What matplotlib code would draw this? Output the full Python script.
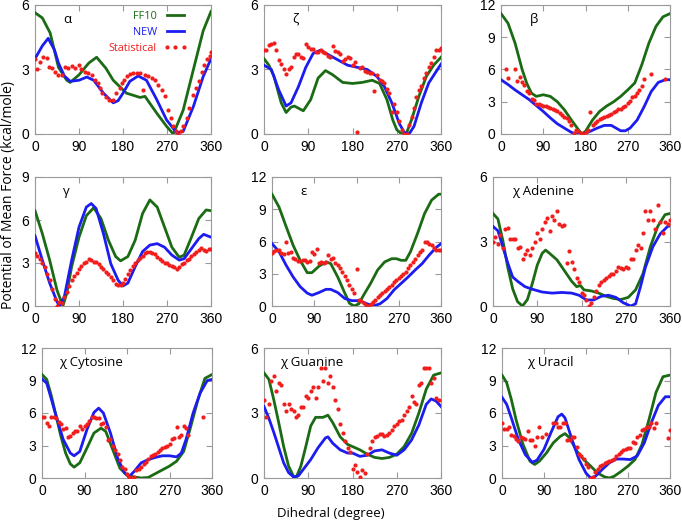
import numpy as np
import matplotlib
matplotlib.use('Agg')
import matplotlib.pyplot as plt

# ---- data ----
# alpha
alpha_ff10_x = [0, 15, 31, 48, 65, 72, 90, 110, 126, 145, 160, 187, 215, 225, 249, 269, 283, 303, 324, 344, 360]
alpha_ff10_y = [5.64, 5.4, 4.7, 3.1, 2.5, 2.4, 2.75, 3.3, 3.57, 3.06, 2.5, 1.9, 1.7, 1.75, 0.97, 0.36, 0.0, 1.1, 3.0, 4.8, 5.7]
alpha_new_x = [0, 15, 27, 40, 48, 60, 72, 90, 106, 120, 140, 160, 170, 180, 194, 211, 228, 249, 269, 290, 303, 324, 344, 360]
alpha_new_y = [3.5, 4.1, 4.45, 3.9, 3.3, 2.7, 2.45, 2.5, 2.65, 2.5, 1.9, 1.45, 1.55, 1.9, 2.45, 2.7, 2.5, 1.6, 0.66, 0.05, 0.12, 1.28, 2.67, 3.5]
alpha_stat_x = [0, 5, 10, 17, 24, 29, 34, 41, 48, 55, 61, 68, 75, 82, 90, 95, 102, 109, 116, 123, 128, 133, 138, 145,
                152, 159, 166, 173, 178, 183, 188, 194, 201, 208, 215, 220, 225, 232, 239, 245, 252, 259, 266, 273,
                278, 283, 288, 293, 299, 303, 310, 316, 323, 329, 336, 341, 346, 351, 357, 360]
alpha_stat_y = [3.5, 3.0, 3.37, 3.6, 3.55, 3.1, 3.05, 2.9, 2.75, 2.75, 3.1, 3.05, 3.15, 3.05, 3.2, 3.0, 2.9, 2.85,
                2.75, 2.5, 2.35, 2.15, 1.9, 1.7, 1.6, 1.6, 1.9, 2.15, 2.35, 2.5, 2.7, 2.8, 2.85, 2.85, 2.83, 2.05,
                2.75, 2.7, 2.6, 2.5, 2.3, 2.05, 1.75, 1.13, 0.74, 0.36, 0.12, 0.0, 0.12, 0.39, 0.74, 1.2, 1.82,
                2.13, 2.47, 2.9, 3.2, 3.48, 3.63, 3.8]

# zeta
zeta_ff10_x = [0, 10, 20, 35, 45, 55, 62, 70, 80, 95, 110, 125, 140, 160, 180, 200, 220, 235, 250, 262, 270, 280, 290, 300, 315, 330, 345, 360]
zeta_ff10_y = [3.5, 3.2, 2.7, 1.45, 1.0, 1.25, 1.3, 1.2, 1.08, 1.6, 2.6, 2.95, 2.75, 2.4, 2.35, 2.4, 2.5, 2.35, 1.6, 0.65, 0.2, 0.0, 0.05, 0.66, 1.75, 2.67, 3.2, 3.57]
zeta_new_x = [0, 15, 30, 45, 55, 70, 85, 100, 115, 130, 150, 170, 190, 210, 230, 245, 260, 275, 285, 295, 305, 320, 335, 350, 360]
zeta_new_y = [3.2, 3.0, 2.05, 1.3, 1.45, 2.2, 3.1, 3.75, 3.9, 3.7, 3.45, 3.2, 3.1, 3.0, 2.67, 2.2, 1.45, 0.5, 0.08, 0.0, 0.35, 1.45, 2.37, 2.9, 3.25]
zeta_stat_x = [0, 5, 10, 15, 20, 25, 30, 35, 40, 45, 50, 55, 60, 65, 70, 75, 80, 85, 90, 95, 100, 105, 110, 115, 120,
               125, 130, 135, 140, 145, 150, 155, 160, 165, 170, 175, 180, 185, 190, 195, 200, 205, 210, 215, 220, 224,
               230, 235, 240, 245, 250, 255, 260, 265, 270, 275, 280, 285, 290, 295, 300, 305, 310, 315, 320, 325,
               330, 335, 340, 345, 350, 355, 360]
zeta_stat_y = [3.9, 3.9, 4.15, 4.2, 4.25, 3.9, 3.45, 3.25, 3.0, 2.8, 3.0, 3.1, 3.6, 3.7, 3.7, 3.6, 3.55, 4.2, 4.05,
               3.95, 3.95, 3.8, 3.8, 3.9, 3.8, 3.75, 3.65, 3.6, 4.1, 3.85, 3.8, 3.7, 3.4, 3.5, 3.6, 3.55, 3.2, 3.35,
               0.1, 3.05, 3.1, 2.95, 2.9, 2.85, 2.85, 2.0, 2.75, 2.5, 2.45, 2.35, 2.1, 1.9, 1.0, 1.4, 1.0, 0.6, 0.2,
               0.0, 0.0, 0.4, 0.8, 1.2, 1.7, 2.05, 2.25, 2.6, 2.85, 3.1, 3.3, 3.6, 3.9, 3.9, 4.0]

# beta
beta_ff10_x = [0, 15, 30, 45, 55, 65, 75, 90, 105, 120, 135, 150, 165, 172, 180, 195, 210, 225, 240, 255, 270, 285, 300, 315, 330, 345, 360]
beta_ff10_y = [11.2, 10.3, 8.45, 6.0, 4.7, 3.8, 3.5, 3.65, 3.5, 3.0, 2.25, 1.3, 0.4, 0.0, 0.25, 1.3, 2.1, 2.6, 3.0, 3.5, 4.1, 4.75, 6.45, 8.45, 10.0, 10.9, 11.2]
beta_new_x = [0, 15, 30, 45, 60, 75, 90, 105, 120, 135, 150, 160, 175, 190, 205, 220, 235, 245, 255, 265, 275, 290, 305, 320, 335, 350, 360]
beta_new_y = [5.05, 4.6, 4.1, 3.65, 3.2, 2.65, 2.1, 1.5, 0.95, 0.55, 0.15, 0.0, 0.0, 0.25, 0.55, 0.8, 0.8, 0.55, 0.3, 0.3, 0.55, 1.3, 2.55, 3.95, 4.8, 5.05, 5.05]
beta_stat_x = [10, 15, 30, 35, 40, 45, 50, 55, 60, 65, 70, 75, 80, 85, 90, 95, 100, 105, 110, 115, 120, 125, 130, 135,
               140, 145, 150, 155, 160, 165, 170, 175, 180, 185, 189, 195, 200, 205, 210, 215, 220, 225, 230, 235,
               240, 245, 250, 255, 260, 265, 270, 275, 280, 285, 290, 295, 300, 305, 320, 350]
beta_stat_y = [6.0, 5.2, 6.0, 4.9, 5.3, 4.8, 4.6, 4.0, 3.8, 3.3, 3.2, 2.8, 2.8, 2.7, 2.6, 2.6, 2.5, 2.4, 2.3, 2.2, 2.1,
               1.95, 1.8, 1.6, 1.45, 1.2, 0.8, 0.1, 0.4, 0.3, 0.05, 0.0, 0.2, 0.35, 2.0, 0.8, 1.0, 1.2, 1.35, 1.45,
               1.55, 1.65, 1.8, 1.9, 2.0, 2.15, 2.3, 2.3, 2.5, 2.65, 2.85, 3.1, 3.4, 3.5, 3.8, 4.1, 4.5, 5.1, 5.6, 5.1]

# gamma
gamma_ff10_x = [0, 15, 30, 45, 57, 65, 75, 90, 105, 120, 135, 150, 165, 175, 190, 205, 220, 235, 250, 265, 280, 295, 305, 320, 335, 350, 360]
gamma_ff10_y = [6.65, 5.05, 3.2, 1.1, 0.0, 0.9, 2.75, 4.8, 6.3, 6.85, 6.1, 4.6, 3.45, 3.15, 3.45, 4.6, 6.45, 7.4, 6.9, 5.5, 4.1, 3.4, 3.55, 4.8, 6.1, 6.7, 6.65]
gamma_new_x = [0, 15, 30, 45, 50, 60, 75, 90, 105, 115, 125, 140, 155, 170, 180, 190, 205, 220, 235, 250, 265, 280, 295, 305, 320, 335, 345, 360]
gamma_new_y = [4.9, 3.2, 1.6, 0.3, 0.0, 0.65, 3.2, 5.5, 6.9, 7.15, 6.8, 5.05, 2.95, 1.8, 1.4, 1.6, 2.75, 3.8, 4.25, 4.35, 4.1, 3.55, 3.2, 3.3, 4.0, 4.7, 5.0, 4.8]
gamma_stat_x = list(range(0, 361, 5))
gamma_stat_y = [3.7, 3.5, 3.3, 3.0, 2.7, 2.2, 1.8, 1.2, 0.5, 0.0, 0.25, 0.2, 0.6, 1.0, 1.4, 1.8, 2.1, 2.3, 2.6, 2.8,
                3.0, 3.1, 3.25, 3.2, 3.1, 3.05, 2.9, 2.7, 2.6, 2.4, 2.2, 2.0, 1.8, 1.55, 1.5, 1.5, 1.6, 1.9, 2.2,
                2.5, 2.8, 3.0, 3.2, 3.35, 3.5, 3.7, 3.8, 3.75, 3.7, 3.6, 3.4, 3.3, 3.15, 3.0, 3.0, 2.85, 2.8, 2.7,
                2.6, 2.7, 2.9, 3.0, 3.2, 3.3, 3.5, 3.6, 3.75, 3.9, 4.05, 3.9, 3.85, 4.0, 4.0]

# epsilon
eps_ff10_x = [0, 15, 30, 45, 60, 75, 85, 100, 115, 125, 140, 155, 165, 175, 185, 195, 210, 225, 240, 255, 265, 275, 285, 295, 310, 325, 340, 355, 360]
eps_ff10_y = [10.4, 9.2, 7.4, 5.65, 4.25, 3.1, 3.1, 3.7, 4.1, 3.95, 2.7, 1.2, 0.25, 0.0, 0.2, 1.0, 2.1, 3.35, 4.1, 4.4, 4.4, 4.25, 4.25, 5.05, 6.75, 8.6, 9.85, 10.4, 10.4]
eps_new_x = [0, 15, 30, 45, 60, 75, 85, 100, 115, 125, 140, 155, 170, 185, 200, 215, 230, 245, 260, 275, 290, 305, 320, 335, 350, 360]
eps_new_y = [5.8, 5.05, 3.8, 2.7, 1.8, 1.2, 1.0, 1.25, 1.55, 1.55, 1.25, 0.7, 0.5, 0.5, 0.25, 0.0, 0.2, 0.7, 1.5, 2.1, 2.7, 3.35, 3.95, 4.75, 5.45, 5.8]
eps_stat_x = list(range(0, 361, 5))
eps_stat_y = [4.9, 5.1, 5.2, 5.2, 4.9, 4.8, 6.0, 4.9, 5.0, 4.5, 4.4, 4.2, 4.2, 4.3, 4.3, 4.1, 4.2, 5.0, 4.8, 5.3,
              4.0, 4.1, 4.0, 4.1, 4.7, 4.4, 4.5, 4.0, 3.8, 3.5, 3.2, 2.8, 2.4, 2.0, 1.6, 1.2, 3.4, 0.6, 0.5, 0.3,
              0.1, 0.0, 0.2, 0.4, 0.6, 0.8, 1.0, 1.2, 1.4, 1.6, 1.8, 2.0, 2.2, 2.4, 2.6, 2.8, 3.0, 3.2, 3.5, 3.8,
              4.1, 4.4, 4.7, 5.0, 5.2, 6.0, 6.0, 5.8, 5.7, 5.4, 5.2, 5.2, 5.2]

# chi adenine
chia_ff10_x = [0, 10, 20, 30, 40, 50, 60, 70, 80, 90, 100, 107, 115, 130, 145, 160, 170, 178, 185, 200, 215, 230, 245, 260, 275, 290, 305, 320, 335, 350, 360]
chia_ff10_y = [4.3, 4.05, 3.05, 1.8, 0.8, 0.2, 0.0, 0.3, 1.05, 1.9, 2.45, 2.6, 2.45, 2.15, 1.65, 1.15, 0.9, 0.95, 0.75, 0.7, 0.6, 0.45, 0.35, 0.3, 0.4, 0.75, 1.5, 2.75, 3.7, 4.25, 4.3]
chia_new_x = [0, 10, 20, 30, 40, 50, 65, 80, 100, 120, 140, 160, 175, 190, 205, 220, 235, 250, 265, 280, 290, 300, 310, 325, 340, 355, 360]
chia_new_y = [3.7, 3.5, 2.75, 2.0, 1.35, 1.15, 0.9, 0.78, 0.65, 0.6, 0.63, 0.6, 0.5, 0.28, 0.28, 0.45, 0.5, 0.4, 0.15, 0.0, 0.1, 0.9, 1.8, 2.75, 3.35, 3.7, 3.72]
chia_stat_x = list(range(0, 361, 5))
chia_stat_y = [3.0, 3.2, 2.9, 3.3, 2.7, 3.6, 3.65, 3.1, 3.1, 3.1, 2.7, 2.75, 2.2, 2.4, 2.6, 2.35, 2.7, 3.0, 3.4,
               3.1, 3.6, 3.9, 4.1, 3.5, 4.2, 4.0, 4.4, 3.8, 3.7, 3.75, 2.0, 2.55, 2.05, 1.7, 1.3, 1.1, 0.6, 0.5,
               0.3, 0.0, 0.15, 0.4, 0.7, 1.0, 1.1, 1.2, 1.3, 1.4, 1.5, 1.5, 1.65, 1.8, 1.75, 1.7, 1.8, 1.75, 2.2,
               2.2, 2.6, 2.85, 2.7, 3.4, 4.4, 4.0, 4.4, 4.0, 3.6, 4.7, 3.9, 3.4, 3.9, 3.8, 4.0]

# chi cytosine
chic_ff10_x = [0, 10, 20, 30, 40, 50, 60, 68, 80, 95, 110, 125, 135, 150, 165, 180, 195, 210, 225, 240, 255, 270, 285, 300, 315, 330, 345, 360]
chic_ff10_y = [9.55, 9.1, 7.55, 5.7, 3.85, 2.3, 1.3, 1.0, 1.4, 2.75, 4.15, 4.6, 4.3, 2.6, 0.9, 0.25, 0.1, 0.0, 0.05, 0.4, 0.75, 1.1, 1.55, 2.45, 4.75, 7.2, 9.2, 9.55]
chic_new_x = [0, 10, 20, 30, 45, 60, 68, 80, 95, 110, 120, 130, 145, 160, 175, 185, 195, 210, 225, 240, 255, 270, 285, 295, 305, 320, 335, 350, 360]
chic_new_y = [9.15, 8.75, 7.25, 5.7, 3.55, 2.3, 2.05, 2.45, 4.45, 6.05, 6.45, 6.0, 4.15, 1.85, 0.45, 0.15, 0.6, 1.4, 1.7, 1.9, 2.05, 2.05, 1.95, 2.3, 3.55, 6.0, 7.85, 9.0, 9.1]
chic_stat_x = [0, 5, 10, 15, 20, 25, 30, 35, 40, 45, 50, 55, 60, 65, 70, 75, 80, 85, 90, 95, 100, 105, 110, 115, 120,
               125, 130, 135, 140, 145, 150, 155, 160, 165, 170, 175, 180, 185, 190, 195, 200, 205, 210, 215, 220,
               225, 230, 235, 240, 245, 250, 255, 260, 265, 270, 275, 280, 285, 290, 295, 300, 305, 310, 340]
chic_stat_y = [5.6, 5.6, 5.1, 4.8, 5.6, 5.6, 5.5, 5.2, 5.0, 4.5, 4.6, 3.8, 3.9, 4.2, 4.3, 4.3, 4.8, 4.5, 4.8, 5.0,
               5.3, 5.6, 5.6, 5.5, 5.5, 5.0, 5.1, 4.7, 3.5, 3.6, 3.0, 2.6, 2.2, 1.7, 1.0, 0.8, 0.4, 0.05, 0.0, 0.1,
               0.7, 0.8, 1.0, 1.3, 1.5, 1.8, 2.0, 2.1, 2.2, 2.4, 2.6, 2.8, 2.9, 3.0, 3.1, 3.6, 3.7, 4.7, 3.8, 4.0,
               4.8, 4.6, 4.0, 5.6]

# chi guanine
chig_ff10_x = [0, 10, 20, 30, 40, 50, 60, 65, 75, 85, 95, 105, 120, 130, 140, 155, 170, 180, 195, 210, 225, 240, 255, 270, 285, 300, 315, 330, 345, 360]
chig_ff10_y = [4.85, 4.55, 3.6, 2.55, 1.45, 0.55, 0.08, 0.0, 0.55, 1.45, 2.4, 2.8, 2.8, 2.9, 2.55, 1.9, 1.55, 1.45, 1.3, 1.1, 0.95, 0.9, 0.95, 1.1, 1.45, 2.05, 3.0, 4.1, 4.75, 4.85]
chig_new_x = [0, 10, 20, 30, 40, 50, 60, 70, 80, 95, 110, 125, 130, 140, 155, 170, 180, 195, 210, 225, 240, 255, 270, 285, 300, 315, 330, 340, 350, 360]
chig_new_y = [3.3, 2.75, 2.1, 1.4, 0.7, 0.25, 0.05, 0.1, 0.4, 0.85, 1.4, 1.85, 1.9, 1.6, 1.3, 1.15, 1.15, 1.0, 1.05, 1.25, 1.3, 1.15, 1.05, 1.3, 1.75, 2.45, 3.4, 3.65, 3.55, 3.3]
chig_stat_x = list(range(0, 356, 5))
chig_stat_y = [3.6, 2.8, 3.4, 4.5, 4.7, 4.0, 4.4, 4.3, 3.4, 3.1, 3.4, 3.2, 3.1, 2.8, 2.9, 3.3, 3.3, 3.8, 3.7, 4.0,
               4.2, 3.7, 4.2, 5.1, 4.5, 5.1, 4.4, 4.7, 4.2, 3.6, 3.2, 2.5, 2.1, 1.7, 1.4, 1.2, 0.4, 0.6, 0.3, 0.05,
               0.35, 0.25, 1.1, 1.4, 1.7, 1.9, 1.95, 2.05, 2.05, 1.95, 2.0, 2.1, 2.2, 2.4, 2.5, 2.65, 2.7, 2.9, 3.1,
               3.3, 3.8, 3.5, 3.4, 4.3, 4.4, 5.1, 5.1, 5.1, 4.4, 4.6, 3.7, 3.6]

# chi uracil
chiu_ff10_x = [0, 10, 20, 30, 45, 60, 70, 80, 95, 110, 125, 135, 145, 160, 175, 190, 205, 220, 230, 240, 255, 270, 285, 300, 315, 330, 345, 360]
chiu_ff10_y = [9.5, 8.8, 7.25, 5.4, 3.1, 1.55, 1.25, 1.55, 2.3, 3.25, 3.85, 4.1, 3.7, 2.5, 1.7, 1.1, 0.45, 0.1, 0.0, 0.15, 0.6, 1.1, 1.7, 3.1, 5.4, 7.9, 9.35, 9.5]
chiu_new_x = [0, 10, 20, 35, 50, 65, 75, 90, 105, 120, 128, 135, 150, 165, 180, 190, 200, 215, 230, 245, 260, 275, 290, 305, 320, 335, 350, 360]
chiu_new_y = [7.45, 6.8, 5.55, 3.55, 2.15, 1.45, 1.65, 2.65, 4.2, 5.65, 5.9, 5.55, 3.55, 1.7, 0.45, 0.0, 0.15, 0.8, 1.4, 1.75, 1.75, 1.7, 2.05, 3.25, 5.1, 6.7, 7.5, 7.5]
chiu_stat_x = [0, 5, 10, 15, 20, 25, 30, 35, 40, 45, 50, 55, 60, 65, 70, 75, 80, 85, 95, 110, 115, 120, 125, 130, 135,
               140, 145, 150, 155, 160, 165, 170, 175, 180, 185, 190, 195, 200, 205, 210, 215, 220, 225, 230, 235,
               240, 245, 250, 255, 260, 265, 270, 275, 280, 285, 290, 295, 300, 305, 310, 315, 320, 325, 330, 355, 360]
chiu_stat_y = [5.1, 4.5, 4.5, 4.7, 4.0, 3.9, 3.6, 3.4, 3.8, 3.7, 3.6, 4.3, 3.5, 3.5, 3.0, 3.8, 4.7, 3.8, 4.1, 5.1,
               5.1, 4.7, 4.7, 5.1, 5.1, 3.5, 3.5, 3.8, 3.8, 2.9, 2.2, 2.0, 1.8, 1.3, 1.0, 0.0, 0.1, 0.6, 0.8, 1.1,
               1.2, 1.4, 1.5, 1.6, 1.7, 1.8, 2.0, 2.2, 2.4, 2.6, 2.7, 2.8, 2.8, 3.3, 3.2, 3.8, 4.0, 4.4, 4.5, 4.7,
               4.7, 5.1, 4.6, 5.1, 3.7, 4.4]

panel_labels = ['α', 'ζ', 'β', 'γ', 'ε', 'χ Adenine', 'χ Cytosine', 'χ Guanine', 'χ Uracil']
panel_ymax = [6, 6, 12, 9, 12, 6, 12, 6, 12]

panels = [
    (alpha_ff10_x, alpha_ff10_y, alpha_new_x, alpha_new_y, alpha_stat_x, alpha_stat_y),
    (zeta_ff10_x, zeta_ff10_y, zeta_new_x, zeta_new_y, zeta_stat_x, zeta_stat_y),
    (beta_ff10_x, beta_ff10_y, beta_new_x, beta_new_y, beta_stat_x, beta_stat_y),
    (gamma_ff10_x, gamma_ff10_y, gamma_new_x, gamma_new_y, gamma_stat_x, gamma_stat_y),
    (eps_ff10_x, eps_ff10_y, eps_new_x, eps_new_y, eps_stat_x, eps_stat_y),
    (chia_ff10_x, chia_ff10_y, chia_new_x, chia_new_y, chia_stat_x, chia_stat_y),
    (chic_ff10_x, chic_ff10_y, chic_new_x, chic_new_y, chic_stat_x, chic_stat_y),
    (chig_ff10_x, chig_ff10_y, chig_new_x, chig_new_y, chig_stat_x, chig_stat_y),
    (chiu_ff10_x, chiu_ff10_y, chiu_new_x, chiu_new_y, chiu_stat_x, chiu_stat_y),
]

# axes boxes in pixels: left, right, top, bottom
boxes = [
    (35, 211, 5, 134), (264, 441, 5, 134), (501, 670, 5, 134),
    (35, 211, 177, 306), (272, 441, 177, 306), (493, 670, 177, 306),
    (42, 212, 348, 478), (264, 441, 348, 478), (502, 670, 348, 478),
]
label_x = [0.16, 0.16, 0.17, 0.16, 0.17, 0.11, 0.1, 0.09, 0.15]

W, H = 682, 523
green = '#1b6b14'
blue = '#1c1cf0'
red = '#f21d1d'
gray = '#9a9a9a'

fig = plt.figure(figsize=(W / 100, H / 100), dpi=100)

for i, (fx, fy, nx, ny, sx, sy) in enumerate(panels):
    l, r, t, b = boxes[i]
    ax = fig.add_axes([l / W, 1 - b / H, (r - l) / W, (b - t) / H])
    ax.plot(fx, fy, color=green, lw=2.0, label='FF10', zorder=3)
    ax.plot(nx, ny, color=blue, lw=2.0, label='NEW', zorder=3)
    ax.plot(sx, sy, 'o', color=red, ms=3.0, mec='none', label='Statistical', zorder=4)
    ymax = panel_ymax[i]
    ax.set_xlim(0, 360)
    ax.set_ylim(0, ymax)
    ax.set_xticks([0, 90, 180, 270, 360])
    ax.set_yticks(np.arange(0, ymax + 1, 3))
    ax.tick_params(direction='in', top=True, right=True, length=4.5, color=gray,
                   labelsize=10, pad=4)
    for lab in ax.get_xticklabels() + ax.get_yticklabels():
        lab.set_family('Liberation Sans')
    for sp in ax.spines.values():
        sp.set_color(gray)
        sp.set_linewidth(0.8)
    ax.text(label_x[i], 0.89, panel_labels[i], transform=ax.transAxes,
            ha='left', va='center', fontsize=9.5, family='Open Sans')
    if i == 0:
        ax.legend(loc='upper right', bbox_to_anchor=(0.92, 1.03), frameon=False,
                  markerfirst=False, labelcolor='linecolor', numpoints=3,
                  handlelength=2.2, handletextpad=0.6, labelspacing=0.45,
                  prop={'family': 'Open Sans', 'size': 7.8})

fig.text(0.013, 0.627, 'Potential of Mean Force (kcal/mole)', rotation=90,
         ha='center', va='center', fontsize=10, family='Open Sans')
fig.text(0.485, 0.018, 'Dihedral (degree)', ha='center', va='center',
         fontsize=9.5, family='Open Sans')

fig.savefig('out.png', dpi=100)
